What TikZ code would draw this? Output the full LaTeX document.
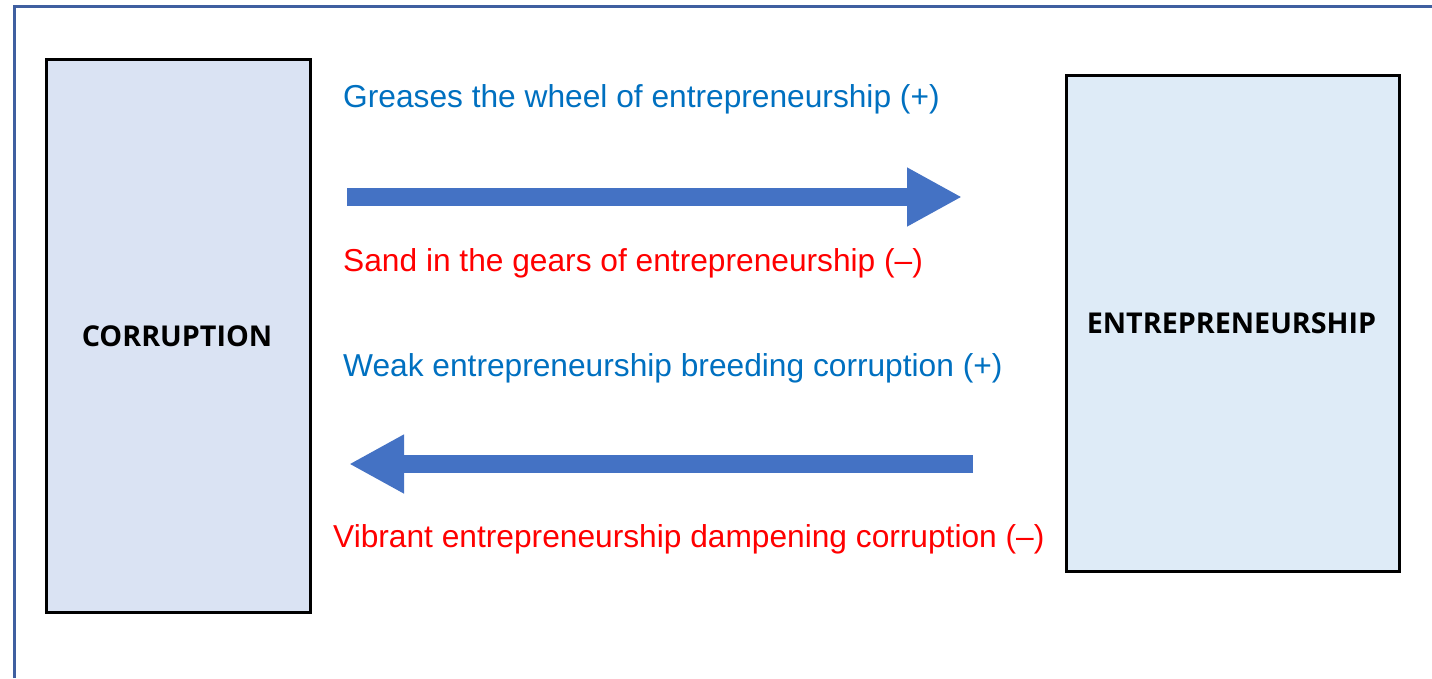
\documentclass[tikz,border=0pt]{standalone}
\usepackage{fontspec}
\setmainfont{Liberation Sans}
\newfontfamily\boxfont{Open Sans}
\usetikzlibrary{arrows.meta}
\definecolor{frameblue}{RGB}{63,95,160}
\definecolor{arrowblue}{RGB}{68,114,196}
\definecolor{txtblue}{RGB}{0,112,192}
\definecolor{txtred}{RGB}{255,0,0}
\definecolor{leftfill}{RGB}{218,227,243}
\definecolor{rightfill}{RGB}{222,235,247}
\tikzset{
  box/.style={draw=black, line width=2.5pt, inner sep=0pt},
  boxlabel/.style={font=\boxfont\bfseries\fontsize{28.7}{32}\selectfont, text=black, inner sep=0pt, anchor=base},
  lbl/.style={font=\fontsize{31.7}{36}\selectfont, inner sep=0pt, anchor=base west},
  bigarrow/.style={draw=arrowblue, line width=18pt, -{Triangle[length=55pt,width=55pt]}, shorten >=0pt},
}
\begin{document}
\begin{tikzpicture}[x=1pt,y=-1pt]
\useasboundingbox (0,0) rectangle (1432,678);
\draw[frameblue, line width=3pt] (14,678) -- (14,6) -- (1432,6);
\node[box, fill=leftfill, minimum width=264pt, minimum height=553pt, anchor=north west] (corr) at (45,58) {};
\node[box, fill=rightfill, minimum width=333pt, minimum height=496pt, anchor=north west] (entr) at (1065,74) {};
\node[boxlabel] (corrlbl) at (177,346) {CORRUPTION};
\node[boxlabel] (entrlbl) at (1231.5,333) {ENTREPRENEURSHIP};
\coordinate (a1s) at (347,197);
\coordinate (a1e) at (962,197);
\coordinate (a2s) at (973,464);
\coordinate (a2e) at (349,464);
\draw[bigarrow] (a1s) -- (a1e);
\draw[bigarrow] (a2s) -- (a2e);
\node[lbl, text=txtblue] (t1) at (343,107) {Greases the wheel of entrepreneurship (+)};
\node[lbl, text=txtred] (t2) at (343,271) {Sand in the gears of entrepreneurship (–)};
\node[lbl, text=txtblue] (t3) at (343,376) {Weak entrepreneurship breeding corruption (+)};
\node[lbl, text=txtred] (t4) at (333,547) {Vibrant entrepreneurship dampening corruption (–)};
\end{tikzpicture}
\end{document}
